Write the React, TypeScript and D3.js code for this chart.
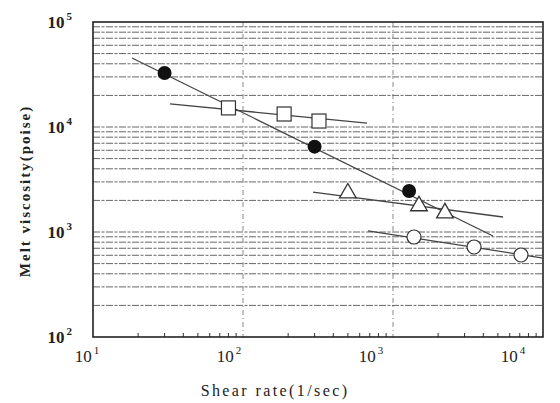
import React from "react";
import * as d3 from "d3";

// Measured points (shear rate 1/sec, melt viscosity poise)
const filledX = [30, 300, 1280];
const filledY = [32700, 6500, 2460];
const squareX = [80, 188, 321];
const squareY = [15200, 13300, 11400];
const triX = [500, 1490, 2220];
const triY = [2400, 1810, 1550];
const openX = [1380, 3470, 7130];
const openY = [896, 720, 604];

// Fitted line end points
const filledLineX = [18.2, 4640];
const filledLineY = [45400, 916];
const squareLineX = [32.6, 671];
const squareLineY = [16600, 10900];
const triLineX = [293, 5410];
const triLineY = [2400, 1390];
const openLineX = [681, 10000];
const openLineY = [1024, 565];

const xExponents = [1, 2, 3, 4];
const yExponents = [2, 3, 4, 5];
const xTitle = "Shear rate(1/sec)";
const yTitle = "Melt viscosity(poise)";

const W = 560;
const H = 403;
const margin = { top: 22, right: 17, bottom: 66, left: 93 };

const serif = "'Liberation Serif', 'DejaVu Serif', serif";

export default function App() {
  const x = d3
    .scaleLog()
    .domain([10, 10000])
    .range([margin.left, W - margin.right]);
  const y = d3
    .scaleLog()
    .domain([100, 100000])
    .range([H - margin.bottom, margin.top]);

  const [x0, x1] = x.range();
  const [y0, y1] = y.range();

  // minor grid values for every decade
  const yGrid: number[] = [];
  for (let e = 2; e < 5; e++) {
    for (let m = 1; m <= 9; m++) {
      const v = m * Math.pow(10, e);
      if (v > 100) yGrid.push(v);
    }
  }
  const xMinor: number[] = [];
  for (let e = 1; e < 4; e++) {
    for (let m = 2; m <= 9; m++) xMinor.push(m * Math.pow(10, e));
  }

  const line = d3
    .line<[number, number]>()
    .x((d) => x(d[0]))
    .y((d) => y(d[1]));
  const pairs = (xs: number[], ys: number[]) =>
    xs.map((v, i) => [v, ys[i]] as [number, number]);

  const lineColor = "#444";
  const tri = d3.symbol(d3.symbolTriangle, 120)();

  return (
    <svg
      width={W}
      height={H}
      style={{ position: "absolute", left: 0, top: 0, background: "#fff" }}
      fontFamily={serif}
    >
      {/* horizontal grid */}
      {yGrid.map((v, i) => (
        <line
          key={"hg" + i}
          x1={x0}
          x2={x1}
          y1={y(v)}
          y2={y(v)}
          stroke="#666"
          strokeWidth={1}
          strokeDasharray="7 1.5 3 1.5"
        />
      ))}
      {/* vertical dashed lines at decades */}
      {[100, 1000].map((v) => (
        <line
          key={"vg" + v}
          x1={x(v)}
          x2={x(v)}
          y1={y1}
          y2={y0}
          stroke="#888"
          strokeWidth={1}
          strokeDasharray="5 3 1 3"
        />
      ))}
      {/* bottom minor ticks */}
      {xMinor.map((v, i) => (
        <line
          key={"xt" + i}
          x1={x(v)}
          x2={x(v)}
          y1={y0}
          y2={y0 - 4}
          stroke="#333"
          strokeWidth={1}
        />
      ))}
      {/* frame */}
      <rect
        x={x0}
        y={y1}
        width={x1 - x0}
        height={y0 - y1}
        fill="none"
        stroke="#222"
        strokeWidth={1.6}
      />

      {/* fitted lines */}
      {[
        pairs(filledLineX, filledLineY),
        pairs(squareLineX, squareLineY),
        pairs(triLineX, triLineY),
        pairs(openLineX, openLineY),
      ].map((p, i) => (
        <path key={"fl" + i} d={line(p) || ""} fill="none" stroke={lineColor} strokeWidth={1.3} />
      ))}

      {/* markers */}
      {filledX.map((v, i) => (
        <circle key={"fc" + i} cx={x(v)} cy={y(filledY[i])} r={7} fill="#111" />
      ))}
      {squareX.map((v, i) => (
        <rect
          key={"sq" + i}
          x={x(v) - 7}
          y={y(squareY[i]) - 7}
          width={14}
          height={14}
          fill="#fff"
          stroke="#333"
          strokeWidth={1.2}
        />
      ))}
      {triX.map((v, i) => (
        <path
          key={"tr" + i}
          d={tri || ""}
          transform={`translate(${x(v)},${y(triY[i]) + 1})`}
          fill="#fff"
          stroke="#333"
          strokeWidth={1.3}
        />
      ))}
      {openX.map((v, i) => (
        <circle
          key={"oc" + i}
          cx={x(v)}
          cy={y(openY[i])}
          r={7}
          fill="#fff"
          stroke="#333"
          strokeWidth={1.2}
        />
      ))}

      {/* x tick labels */}
      {xExponents.map((e, i) => (
        <text
          key={"xl" + e}
          x={x(Math.pow(10, e)) - 6 - 8 * i}
          y={y0 + 25}
          textAnchor="middle"
          fontSize={17}
          fill="#222"
        >
          10
          <tspan dx={2} dy={-8} fontSize={11}>
            {e}
          </tspan>
        </text>
      ))}
      {/* y tick labels */}
      {yExponents.map((e) => (
        <text
          key={"yl" + e}
          x={x0 - 21}
          y={y(Math.pow(10, e)) + 6}
          textAnchor="end"
          fontSize={17}
          fontWeight="bold"
          fill="#222"
        >
          10
          <tspan dx={2} dy={-8} fontSize={11}>
            {e}
          </tspan>
        </text>
      ))}

      {/* axis titles */}
      <text
        x={275}
        y={396}
        textAnchor="middle"
        fontSize={16}
        letterSpacing={2.4}
        fill="#222"
      >
        {xTitle}
      </text>
      <text
        transform={`translate(30,${191}) rotate(-90)`}
        textAnchor="middle"
        fontSize={15}
        fontWeight="bold"
        letterSpacing={2}
        fill="#222"
      >
        {yTitle}
      </text>
    </svg>
  );
}
